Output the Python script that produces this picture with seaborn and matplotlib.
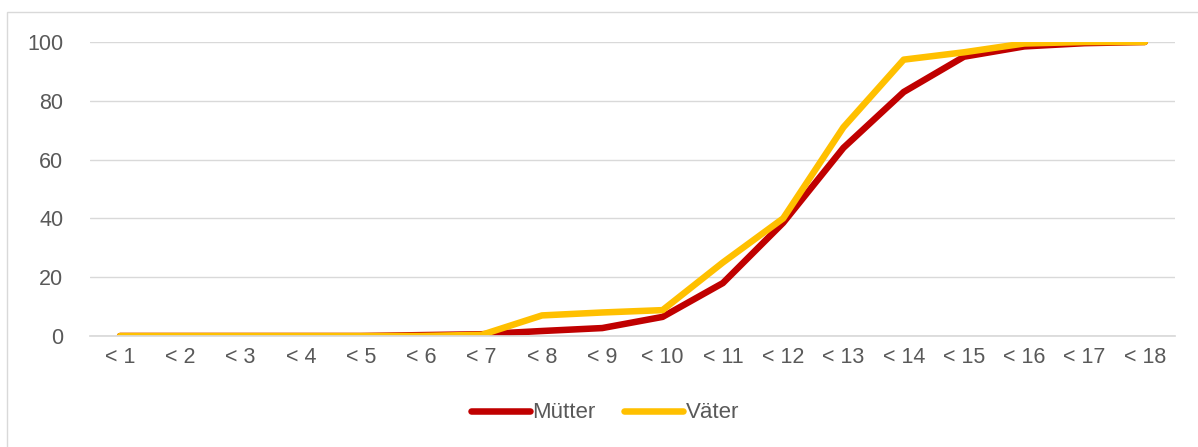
import pandas as pd
import numpy as np
import matplotlib
matplotlib.use("Agg")
import matplotlib.pyplot as plt
import seaborn as sns
from matplotlib.patches import Rectangle

categories = ["< %d" % i for i in range(1, 19)]
muetter = [0, 0, 0, 0, 0, 0.3, 0.6, 1.7, 2.7, 6.5, 18, 38.5, 64, 83, 95, 98.5, 99.6, 100]
vaeter = [0, 0, 0, 0, 0, 0, 0.4, 7, 8, 8.8, 25, 40, 71, 94, 96.5, 99.5, 100, 100]

df = pd.DataFrame({
    "Kategorie": categories * 2,
    "Wert": muetter + vaeter,
    "Gruppe": ["Mütter"] * len(categories) + ["Väter"] * len(categories),
})
df["pos"] = list(range(len(categories))) * 2

sns.set_theme(style="white")
plt.rcParams["font.family"] = ["Liberation Sans", "DejaVu Sans"]

fig = plt.figure(figsize=(11.98, 4.47), dpi=100)
ax = fig.add_axes([89.85 / 1198, 1 - 336 / 447, (1175 - 89.85) / 1198, (336 - 42) / 447])

sns.lineplot(data=df, x="pos", y="Wert", hue="Gruppe",
             palette={"Mütter": "#C00000", "Väter": "#FFC000"},
             linewidth=4.7, ax=ax, legend=False)

ax.set_xlim(-0.5, len(categories) - 0.5)
ax.set_ylim(0, 100)
ax.set_xticks(range(len(categories)))
ax.set_xticklabels(categories)
ax.set_yticks(range(0, 101, 20))
ax.yaxis.grid(True, color="#D9D9D9", linewidth=1)
ax.set_axisbelow(True)
for s in ax.spines.values():
    s.set_visible(False)
ax.spines["bottom"].set_visible(True)
ax.spines["bottom"].set_color("#D9D9D9")
ax.tick_params(axis="both", length=0, labelsize=15.5, colors="#595959")
ax.tick_params(axis="y", pad=19)
ax.tick_params(axis="x", pad=8)
ax.set_xlabel("")
ax.set_ylabel("")

handles = [plt.Line2D([], [], color="#C00000", lw=4.7, solid_capstyle="round"),
           plt.Line2D([], [], color="#FFC000", lw=4.7, solid_capstyle="round")]
fig.legend(handles, ["Mütter", "Väter"], loc="center", bbox_to_anchor=(0.505, 1 - 413 / 447),
           ncol=2, frameon=False, fontsize=16, labelcolor="#595959",
           handlelength=2.65, handletextpad=0.1, columnspacing=1.3)

fig.patches.append(Rectangle((7 / 1198, -0.1), 1.2, 1.1 - 12 / 447,
                             transform=fig.transFigure, fill=False,
                             edgecolor="#D9D9D9", linewidth=1))

fig.savefig("out.png", dpi=100)
